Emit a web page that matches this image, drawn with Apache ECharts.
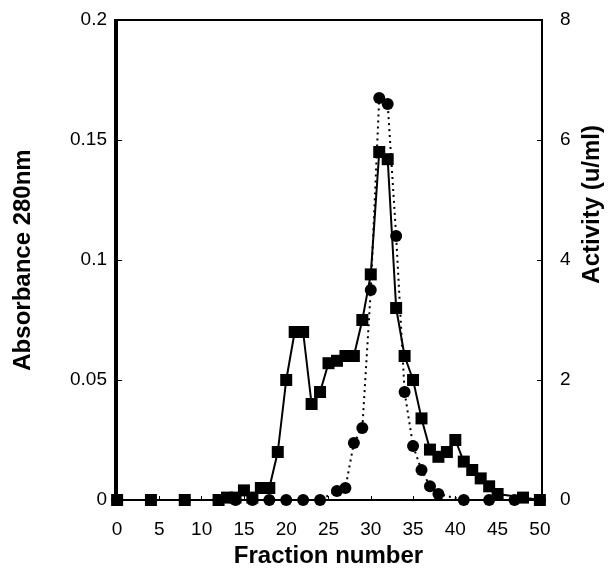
<!DOCTYPE html>
<html>
<head>
<meta charset="utf-8">
<script src="https://cdn.jsdelivr.net/npm/echarts@6/dist/echarts.min.js"></script>
<style>html,body{margin:0;padding:0;background:#fff}#c{width:616px;height:583px}</style>
</head>
<body>
<div id="c"></div>
<script>
// Absorbance 280nm (squares, solid line)
var absFractions = [0,4,8,12,13,14,15,16,17,18,19,20,21,22,23,24,25,26,27,28,29,30,31,32,33,34,35,36,37,38,39,40,41,42,43,44,45,48,50];
var absValues    = [0,0,0,0,0.001,0.001,0.004,0.001,0.005,0.005,0.02,0.05,0.07,0.07,0.04,0.045,0.057,0.058,0.06,0.06,0.075,0.094,0.145,0.142,0.08,0.06,0.05,0.034,0.021,0.018,0.02,0.025,0.016,0.0125,0.009,0.0057,0.0025,0.001,0];
// Activity (u/ml) (circles, dotted line)
var actFractions = [0,4,8,12,14,16,18,20,22,24,26,27,28,29,30,31,32,33,34,35,36,37,38,41,44,47,50];
var actValues    = [0,0,0,0,0,0,0,0,0,0,0.15,0.2,0.95,1.2,3.5,6.7,6.6,4.4,1.8,0.9,0.5,0.23,0.1,0,0,0,0];
// Tick labels
var xTicks = [0,5,10,15,20,25,30,35,40,45,50];
var xTitle = 'Fraction number';
var leftTitle = 'Absorbance 280nm';
var rightTitle = 'Activity (u/ml)';

function pairs(xs, ys){ return xs.map(function(x,i){ return [x, ys[i]]; }); }

var font = 'Liberation Sans, Arial, Helvetica, sans-serif';
var chart = echarts.init(document.getElementById('c'), null, {renderer:'canvas'});
chart.setOption({
  animation: false,
  backgroundColor: '#fff',
  grid: {left: 115, right: 74, top: 20, bottom: 83, show: true, borderColor: '#000', borderWidth: 2, backgroundColor: 'transparent'},
  xAxis: {
    type: 'value', min: -0.25, max: 50.25,
    splitLine: {show: false},
    axisLine: {lineStyle: {color: '#000', width: 2}},
    axisTick: {inside: true, length: 4, customValues: xTicks, lineStyle: {color: '#000'}},
    axisLabel: {customValues: xTicks, color: '#000', fontFamily: font, fontSize: 19, margin: 20},
    name: xTitle, nameLocation: 'middle', nameGap: 44,
    nameTextStyle: {color: '#000', fontFamily: font, fontSize: 24, fontWeight: 'bold'}
  },
  yAxis: [{
    type: 'value', min: 0, max: 0.2, interval: 0.05,
    splitLine: {show: false},
    axisLine: {show: true, lineStyle: {color: '#000', width: 2}},
    axisTick: {show: true, inside: true, length: 5, lineStyle: {color: '#000'}},
    axisLabel: {color: '#000', fontFamily: font, fontSize: 19, margin: 8},
    name: leftTitle, nameLocation: 'middle', nameGap: 80,
    nameTextStyle: {color: '#000', fontFamily: font, fontSize: 24, fontWeight: 'bold'}
  },{
    type: 'value', min: 0, max: 8, interval: 2, position: 'right',
    splitLine: {show: false},
    axisLine: {show: true, lineStyle: {color: '#000', width: 2}},
    axisTick: {show: true, inside: true, length: 5, lineStyle: {color: '#000'}},
    axisLabel: {color: '#000', fontFamily: font, fontSize: 19, margin: 18}
  }],
  graphic: [{
    type: 'text', left: 580, top: 125, rotation: Math.PI/2,
    style: {text: rightTitle, fill: '#000', font: 'bold 24px ' + font}
  }],
  series: [{
    type: 'line', yAxisIndex: 1, data: pairs(actFractions, actValues),
    symbol: 'circle', symbolSize: 12,
    itemStyle: {color: '#000'},
    lineStyle: {color: '#000', width: 2, type: [2, 4]},
    z: 2
  },{
    type: 'line', yAxisIndex: 0, data: pairs(absFractions, absValues),
    symbol: 'rect', symbolSize: 12,
    itemStyle: {color: '#000'},
    lineStyle: {color: '#000', width: 2},
    z: 3
  }]
});
</script>
</body>
</html>
